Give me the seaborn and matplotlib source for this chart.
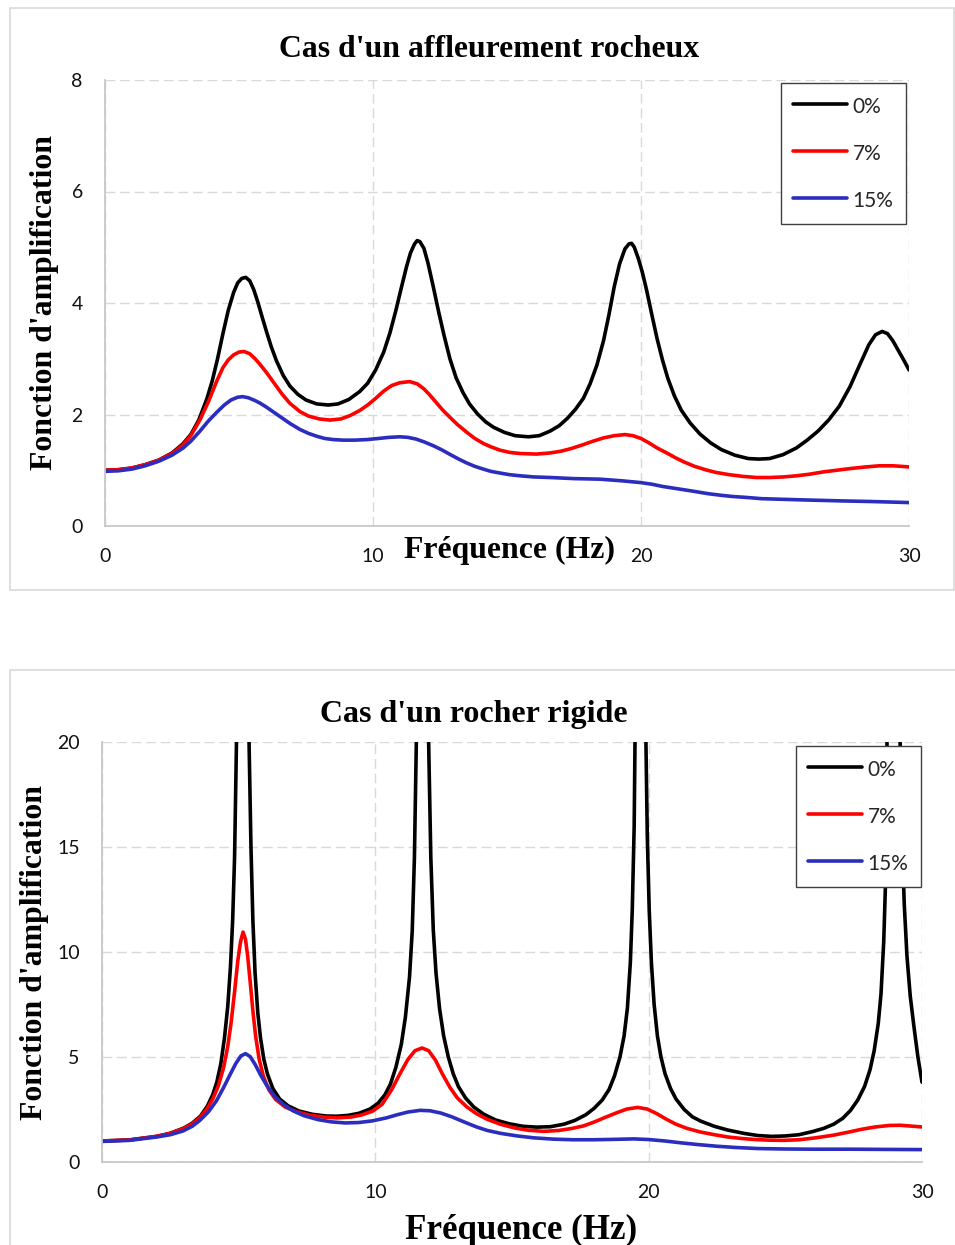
import numpy as np
import pandas as pd
import matplotlib
matplotlib.use("Agg")
import matplotlib.pyplot as plt
import seaborn as sns
from matplotlib.patches import Rectangle

# ---------------- data ----------------
labels = ["0%", "7%", "15%"]
colors = ["#000000", "#FF0000", "#2B2DBF"]

# Panel 1 : Cas d'un affleurement rocheux
top_f0 = [0, 0.5, 1, 1.5, 2, 2.5, 2.9, 3.2, 3.5, 3.8, 4.0, 4.2, 4.4, 4.6, 4.8, 4.95, 5.1, 5.25, 5.4, 5.55,
          5.7, 5.85, 6.03, 6.2, 6.4, 6.65, 6.9, 7.2, 7.5, 7.9, 8.33, 8.7, 9.1, 9.5, 9.8, 10.1, 10.4, 10.63,
          10.85, 11.05, 11.25, 11.4, 11.55, 11.65, 11.75, 11.9, 12.05, 12.25, 12.45, 12.65, 12.87, 13.1,
          13.35, 13.6, 13.9, 14.2, 14.5, 14.9, 15.3, 15.8, 16.2, 16.6, 16.95, 17.25, 17.55, 17.85, 18.1,
          18.35, 18.6, 18.8, 19.0, 19.2, 19.4, 19.55, 19.65, 19.75, 19.9, 20.05, 20.2, 20.4, 20.6, 20.8,
          21.0, 21.25, 21.5, 21.83, 22.2, 22.6, 23.0, 23.5, 24.0, 24.4, 24.8, 25.3, 25.8, 26.2, 26.6, 27.0,
          27.4, 27.8, 28.17, 28.5, 28.75, 29.0, 29.2, 29.4, 29.6, 29.8, 30.0]
top_a0 = [1.00, 1.01, 1.04, 1.10, 1.18, 1.31, 1.47, 1.64, 1.90, 2.28, 2.60, 3.00, 3.45, 3.87, 4.19, 4.36,
          4.44, 4.46, 4.40, 4.24, 4.02, 3.77, 3.48, 3.22, 2.96, 2.70, 2.51, 2.36, 2.26, 2.19, 2.17, 2.19,
          2.27, 2.41, 2.56, 2.80, 3.12, 3.46, 3.86, 4.26, 4.65, 4.90, 5.06, 5.12, 5.10, 4.98, 4.72, 4.29,
          3.84, 3.42, 3.00, 2.66, 2.40, 2.19, 2.01, 1.87, 1.77, 1.68, 1.62, 1.60, 1.62, 1.70, 1.80, 1.93,
          2.09, 2.29, 2.55, 2.88, 3.32, 3.78, 4.29, 4.70, 4.97, 5.06, 5.07, 5.00, 4.80, 4.55, 4.25, 3.80,
          3.36, 2.98, 2.65, 2.33, 2.08, 1.85, 1.65, 1.49, 1.37, 1.27, 1.21, 1.20, 1.21, 1.28, 1.40, 1.54,
          1.70, 1.90, 2.15, 2.50, 2.90, 3.25, 3.43, 3.49, 3.45, 3.32, 3.15, 2.98, 2.80]

top_f7 = [0, 0.5, 1, 1.5, 2, 2.5, 2.9, 3.2, 3.54, 3.85, 4.17, 4.4, 4.6, 4.8, 5.0, 5.19, 5.4, 5.6, 5.8,
          6.03, 6.3, 6.6, 6.9, 7.28, 7.6, 8.0, 8.4, 8.8, 9.14, 9.5, 9.8, 10.1, 10.4, 10.7, 11.0, 11.37,
          11.65, 11.9, 12.1, 12.35, 12.6, 12.85, 13.15, 13.5, 13.8, 14.12, 14.4, 14.74, 15.1, 15.5, 16.1,
          16.6, 17.0, 17.4, 17.85, 18.2, 18.6, 19.0, 19.4, 19.7, 20.0, 20.3, 20.6, 21.0, 21.3, 21.6, 22.0,
          22.4, 22.8, 23.3, 23.8, 24.3, 24.8, 25.3, 25.8, 26.3, 26.8, 27.3, 27.8, 28.4, 28.9, 29.4, 30.0]
top_a7 = [1.00, 1.01, 1.04, 1.10, 1.18, 1.30, 1.45, 1.62, 1.90, 2.22, 2.60, 2.84, 2.98, 3.07, 3.12, 3.13,
          3.09, 3.00, 2.89, 2.75, 2.57, 2.37, 2.20, 2.05, 1.97, 1.92, 1.90, 1.92, 1.98, 2.07, 2.17, 2.29,
          2.42, 2.52, 2.57, 2.59, 2.55, 2.46, 2.36, 2.22, 2.08, 1.96, 1.82, 1.68, 1.57, 1.48, 1.42, 1.36,
          1.32, 1.30, 1.29, 1.31, 1.34, 1.39, 1.46, 1.52, 1.58, 1.62, 1.64, 1.62, 1.57, 1.49, 1.40, 1.30,
          1.22, 1.15, 1.07, 1.01, 0.96, 0.92, 0.89, 0.87, 0.87, 0.88, 0.90, 0.93, 0.97, 1.00, 1.03, 1.06,
          1.08, 1.08, 1.06]

top_f15 = [0, 0.5, 1, 1.5, 2, 2.5, 2.92, 3.2, 3.54, 3.85, 4.17, 4.45, 4.7, 4.95, 5.14, 5.35, 5.6, 5.8,
           6.03, 6.3, 6.6, 6.9, 7.28, 7.6, 7.9, 8.2, 8.52, 8.9, 9.3, 9.77, 10.2, 10.6, 11.0, 11.3, 11.6,
           11.9, 12.25, 12.55, 12.85, 13.2, 13.5, 13.8, 14.12, 14.4, 14.74, 15.1, 15.5, 16.0, 16.6, 17.5,
           18.47, 19.3, 19.96, 20.4, 20.8, 21.2, 21.6, 22.0, 22.5, 23.0, 23.4, 24.0, 24.5, 25.2, 25.9,
           26.7, 27.5, 28.5, 29.3, 30.0]
top_a15 = [0.98, 0.99, 1.02, 1.08, 1.16, 1.27, 1.40, 1.52, 1.70, 1.88, 2.04, 2.17, 2.26, 2.31, 2.32, 2.30,
           2.25, 2.20, 2.13, 2.04, 1.94, 1.84, 1.73, 1.66, 1.61, 1.57, 1.55, 1.54, 1.54, 1.55, 1.57, 1.59,
           1.60, 1.59, 1.56, 1.51, 1.44, 1.37, 1.29, 1.20, 1.13, 1.07, 1.02, 0.98, 0.95, 0.92, 0.90, 0.88,
           0.87, 0.85, 0.84, 0.81, 0.78, 0.75, 0.71, 0.68, 0.65, 0.62, 0.58, 0.55, 0.53, 0.51, 0.49, 0.48,
           0.47, 0.46, 0.45, 0.44, 0.43, 0.42]

# Panel 2 : Cas d'un rocher rigide
bot_f0 = [0, 1, 2, 2.5, 3.0, 3.3, 3.6, 3.85, 4.05, 4.2, 4.35, 4.48, 4.6, 4.7, 4.78, 4.85, 4.92, 5.15, 5.38,
          5.45, 5.52, 5.6, 5.7, 5.8, 5.92, 6.05, 6.25, 6.5, 6.8, 7.2, 7.7, 8.2, 8.6, 9.0, 9.4, 9.8, 10.1,
          10.35, 10.55, 10.75, 10.95, 11.1, 11.25, 11.35, 11.43, 11.5, 11.73, 11.95, 12.03, 12.12, 12.22,
          12.35, 12.5, 12.67, 12.85, 13.04, 13.3, 13.6, 13.96, 14.4, 14.9, 15.4, 15.9, 16.4, 16.9, 17.3,
          17.7, 18.0, 18.3, 18.55, 18.75, 18.95, 19.1, 19.22, 19.33, 19.4, 19.47, 19.5, 19.7, 19.9, 19.95,
          20.02, 20.1, 20.2, 20.32, 20.45, 20.6, 20.8, 21.0, 21.3, 21.6, 21.9, 22.4, 22.9, 23.5, 24.0,
          24.5, 25.0, 25.5, 26.0, 26.4, 26.77, 27.1, 27.38, 27.65, 27.9, 28.1, 28.25, 28.4, 28.5, 28.6,
          28.67, 28.72, 28.95, 29.2, 29.27, 29.35, 29.45, 29.57, 29.7, 29.85, 30.0]
bot_a0 = [1.00, 1.05, 1.22, 1.37, 1.62, 1.85, 2.18, 2.65, 3.20, 3.80, 4.70, 5.90, 7.4, 9.3, 11.5, 14.5,
          20, 80, 20, 15, 11.5, 9.0, 7.1, 5.9, 4.9, 4.2, 3.5, 3.0, 2.68, 2.43, 2.27, 2.19, 2.18, 2.22,
          2.32, 2.52, 2.80, 3.2, 3.7, 4.5, 5.6, 6.9, 8.8, 11.0, 14.5, 20, 80, 20, 14.5, 11.05, 9.0, 7.3,
          6.0, 5.0, 4.2, 3.59, 3.05, 2.62, 2.28, 2.0, 1.82, 1.70, 1.66, 1.68, 1.80, 1.98, 2.25, 2.55,
          2.95, 3.45, 4.1, 5.0, 6.0, 7.3, 9.5, 12.0, 16, 20, 80, 20, 15.5, 12.0, 9.5, 7.5, 6.0, 5.0, 4.2,
          3.5, 3.0, 2.5, 2.15, 1.95, 1.70, 1.52, 1.36, 1.26, 1.22, 1.24, 1.30, 1.45, 1.60, 1.80, 2.08,
          2.45, 2.95, 3.6, 4.4, 5.3, 6.6, 8.0, 10.5, 13.5, 20, 80, 20, 15.5, 12.3, 9.8, 7.9, 6.5, 5.0, 3.8]

bot_f7 = [0, 1, 2, 2.5, 3.0, 3.3, 3.58, 3.85, 4.05, 4.25, 4.45, 4.6, 4.72, 4.85, 4.97, 5.07, 5.16, 5.25,
          5.33, 5.42, 5.52, 5.62, 5.75, 5.9, 6.1, 6.35, 6.7, 7.1, 7.6, 8.1, 8.6, 9.1, 9.5, 9.9, 10.25, 10.6,
          10.9, 11.2, 11.45, 11.71, 11.95, 12.2, 12.45, 12.73, 13.0, 13.35, 13.7, 14.1, 14.57, 15.1, 15.6,
          16.16, 16.7, 17.2, 17.62, 18.0, 18.4, 18.84, 19.2, 19.6, 19.95, 20.3, 20.67, 21.0, 21.4, 21.89,
          22.4, 22.9, 23.4, 23.9, 24.4, 24.94, 25.5, 26.1, 26.77, 27.3, 27.8, 28.3, 28.8, 29.2, 29.6, 30.0]
bot_a7 = [1.00, 1.05, 1.22, 1.36, 1.60, 1.82, 2.10, 2.55, 3.0, 3.6, 4.5, 5.5, 6.6, 8.1, 9.6, 10.5, 10.95,
          10.6, 9.8, 8.6, 7.2, 6.0, 4.9, 4.1, 3.45, 2.98, 2.62, 2.40, 2.23, 2.14, 2.10, 2.14, 2.24, 2.42,
          2.75, 3.45, 4.2, 4.9, 5.3, 5.43, 5.3, 4.85, 4.2, 3.55, 3.05, 2.62, 2.3, 2.03, 1.80, 1.62, 1.51,
          1.46, 1.50, 1.60, 1.72, 1.90, 2.12, 2.35, 2.52, 2.60, 2.52, 2.30, 2.02, 1.80, 1.60, 1.43, 1.30,
          1.19, 1.12, 1.07, 1.04, 1.03, 1.06, 1.15, 1.28, 1.42, 1.56, 1.67, 1.74, 1.75, 1.71, 1.67]

bot_f15 = [0, 1, 2, 2.5, 2.97, 3.3, 3.58, 3.9, 4.19, 4.45, 4.7, 4.9, 5.08, 5.25, 5.42, 5.6, 5.8, 6.02,
           6.3, 6.63, 7.0, 7.4, 7.9, 8.4, 8.9, 9.4, 9.9, 10.4, 10.8, 11.2, 11.64, 12.0, 12.4, 12.8, 13.3,
           13.7, 14.1, 14.6, 15.2, 15.8, 16.5, 17.2, 18.0, 18.8, 19.45, 20.0, 20.6, 21.2, 21.8, 22.5,
           23.2, 24.0, 24.94, 26.0, 27.4, 28.6, 30.0]
bot_a15 = [0.98, 1.03, 1.19, 1.30, 1.48, 1.70, 1.98, 2.40, 2.92, 3.55, 4.20, 4.70, 5.05, 5.16, 5.02, 4.65,
           4.15, 3.66, 3.15, 2.75, 2.43, 2.20, 2.02, 1.91, 1.86, 1.88, 1.96, 2.10, 2.25, 2.38, 2.46, 2.44,
           2.33, 2.15, 1.88, 1.67, 1.50, 1.36, 1.24, 1.15, 1.09, 1.06, 1.06, 1.08, 1.10, 1.07, 1.00, 0.91,
           0.83, 0.75, 0.69, 0.64, 0.62, 0.61, 0.61, 0.60, 0.59]

x_ticks = [0, 10, 20, 30]
top_y_ticks = [0, 2, 4, 6, 8]
bot_y_ticks = [0, 5, 10, 15, 20]

title_top = "Cas d'un affleurement rocheux"
title_bot = "Cas d'un rocher rigide"
xlabel = "Fréquence (Hz)"
ylabel = "Fonction d'amplification"


def long_frame(freqs, amps):
    parts = [pd.DataFrame({"freq": f, "amp": a, "serie": lab})
             for lab, f, a in zip(labels, freqs, amps)]
    return pd.concat(parts, ignore_index=True)


df_top = long_frame([top_f0, top_f7, top_f15], [top_a0, top_a7, top_a15])
df_bot = long_frame([bot_f0, bot_f7, bot_f15], [bot_a0, bot_a7, bot_a15])

# ---------------- style ----------------
sns.set_theme(style="white")
plt.rcParams["font.family"] = ["Lato", "DejaVu Sans"]

W, H = 955, 1245
fig = plt.figure(figsize=(W / 100, H / 100), dpi=100)
fig.patch.set_facecolor("white")


def fx(px):
    return px / W


def fy(py):
    return 1 - py / H


# chart-area borders
fig.add_artist(Rectangle((fx(10), fy(590)), fx(954) - fx(10), fy(8) - fy(590),
                         transform=fig.transFigure, fill=False, edgecolor="#d9d9d9", lw=1.2))
fig.add_artist(Rectangle((fx(10), fy(1260)), fx(970) - fx(10), fy(670) - fy(1260),
                         transform=fig.transFigure, fill=False, edgecolor="#d9d9d9", lw=1.2))

ax1 = fig.add_axes([fx(105), fy(526), fx(909) - fx(105), fy(80) - fy(526)])
ax2 = fig.add_axes([fx(102), fy(1162), fx(922) - fx(102), fy(742) - fy(1162)])

serif_bold = dict(family="Liberation Serif", weight="bold")


def draw(ax, df, ylim, yticks, title, tpos, tsize, xlpos, xlsize, ylx, leg_anchor):
    sns.lineplot(data=df, x="freq", y="amp", hue="serie", hue_order=labels,
                 palette=colors, estimator=None, sort=False, linewidth=2.6,
                 legend=False, ax=ax)
    for ln in ax.lines:
        ln.set_solid_joinstyle("round")
        ln.set_solid_capstyle("round")
    ax.set_xlim(0, 30)
    ax.set_ylim(*ylim)
    ax.set_xticks(x_ticks)
    ax.set_yticks(yticks)
    ax.grid(True, color="#d9d9d9", linestyle=(0, (7, 3.5)), linewidth=1.0)
    ax.set_axisbelow(True)
    for s in ["top", "right"]:
        ax.spines[s].set_visible(False)
    for s in ["left", "bottom"]:
        ax.spines[s].set_color("#c8c8c8")
        ax.spines[s].set_linewidth(1.3)
    ax.tick_params(length=0, pad=16.0, labelsize=14, labelcolor="#111111")
    for t in ax.get_xticklabels() + ax.get_yticklabels():
        t.set_family("Lato")

    ax.set_title(title, x=tpos[0], y=tpos[1], pad=0, va="baseline",
                 fontsize=tsize, color="black", **serif_bold)
    ax.set_xlabel(xlabel, fontsize=xlsize, color="black", **serif_bold)
    ax.xaxis.label.set_va("baseline")
    ax.xaxis.set_label_coords(*xlpos)
    ax.set_ylabel(ylabel, fontsize=22.9, color="black", **serif_bold)
    ax.yaxis.set_label_coords(ylx, 0.5)

    leg = ax.legend(ax.lines[:3], labels, loc="upper right", bbox_to_anchor=leg_anchor,
                    bbox_transform=ax.transAxes, borderaxespad=0, frameon=True,
                    fancybox=False, framealpha=1, edgecolor="#404040",
                    prop={"family": "Lato", "size": 15}, handlelength=2.6,
                    handleheight=1.2, handletextpad=0.25, labelspacing=1.21,
                    borderpad=0.6)
    leg.get_frame().set_linewidth(1.0)
    for h in leg.get_lines():
        h.set_linewidth(2.6)


draw(ax1, df_top, (0, 8), top_y_ticks, title_top, (0.4782, 1.0509), 22.9,
     (0.5037, -0.0717), 22.9, -0.0573, (0.9963, 0.9933))
draw(ax2, df_bot, (0, 20), bot_y_ticks, title_bot, (0.4537, 1.0476), 23.0,
     (0.5116, -0.1833), 25.2, -0.0641, (0.9988, 0.9905))

fig.savefig("out.png", dpi=100, facecolor="white")
